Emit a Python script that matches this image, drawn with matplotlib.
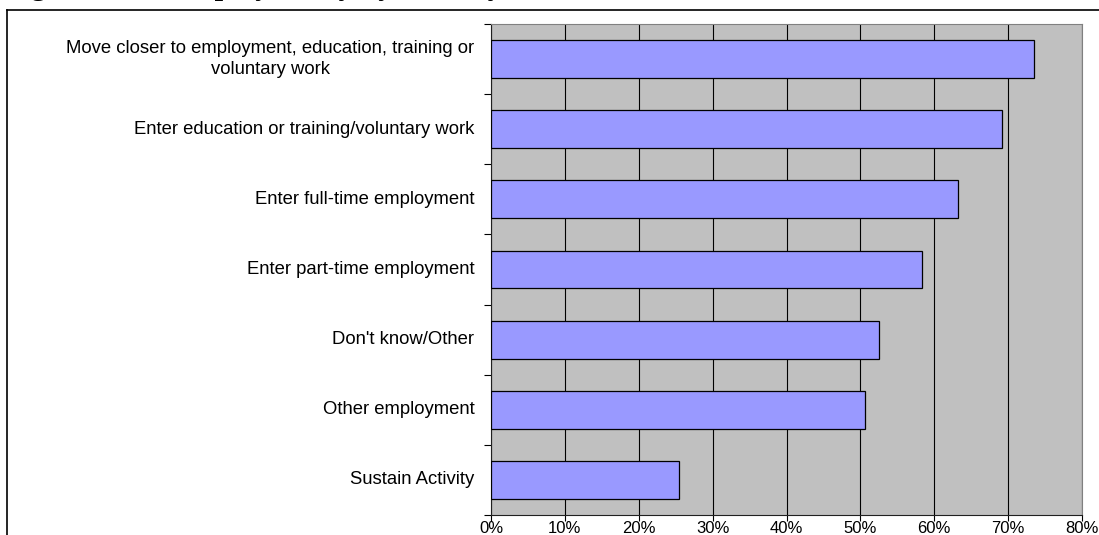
import matplotlib
matplotlib.use("Agg")
import matplotlib.pyplot as plt
from matplotlib.lines import Line2D
from matplotlib.ticker import FixedLocator, PercentFormatter
import numpy as np

# Data (top to bottom as drawn)
categories = [
    "Move closer to employment, education, training or\nvoluntary work",
    "Enter education or training/voluntary work",
    "Enter full-time employment",
    "Enter part-time employment",
    "Don't know/Other",
    "Other employment",
    "Sustain Activity",
]
values = [73.5, 69.2, 63.2, 58.4, 52.5, 50.6, 25.4]
x_ticks = [0, 10, 20, 30, 40, 50, 60, 70, 80]
title = "Figure 5.10: Employability by Activity"

W, H = 1099, 535
fig = plt.figure(figsize=(W / 100, H / 100), dpi=100)
fig.patch.set_facecolor("white")

# Plot area in pixel coordinates
left_px, right_px, top_px, bottom_px = 491, 1082, 24, 515
ax = fig.add_axes([left_px / W, 1 - bottom_px / H,
                   (right_px - left_px) / W, (bottom_px - top_px) / H])
ax.set_facecolor("#C0C0C0")

n = len(categories)
ypos = np.arange(n)
ax.barh(ypos, values, height=0.54, color="#9999FF", edgecolor="black",
        linewidth=0.9, zorder=3)

ax.set_xlim(0, 80)
ax.set_ylim(n - 0.5, -0.5)

# Vertical gridlines
ax.set_xticks(x_ticks)
ax.xaxis.set_major_formatter(PercentFormatter(decimals=0))
ax.grid(axis="x", color="black", linewidth=0.8, zorder=1)
ax.set_axisbelow(True)

# Category labels at bar centres, tick marks at band boundaries
ax.set_yticks(ypos)
ax.set_yticklabels(categories, ha="right", multialignment="center")
ax.yaxis.set_minor_locator(FixedLocator(np.arange(-0.5, n, 1.0)))
ax.tick_params(axis="y", which="major", length=0, pad=12)
ax.tick_params(axis="y", which="minor", length=5, width=0.8, color="black")
ax.tick_params(axis="x", which="major", length=4, width=0.8, color="black",
               pad=0)

for lbl in ax.get_yticklabels():
    lbl.set_fontfamily("Liberation Sans")
    lbl.set_fontsize(13.3)
    lbl.set_color("black")
    lbl.set_verticalalignment("center")
    lbl.set_linespacing(1.35)
for lbl in ax.get_xticklabels():
    lbl.set_fontfamily("Liberation Sans")
    lbl.set_fontsize(12)
    lbl.set_color("black")

for side in ("top", "right"):
    ax.spines[side].set_color("#808080")
    ax.spines[side].set_linewidth(0.8)
for side in ("left", "bottom"):
    ax.spines[side].set_color("#202020")
    ax.spines[side].set_linewidth(0.8)

# Outer chart frame (extends past right and bottom edges)
fx0, fy0 = 7 / W, 1 - 10 / H
fig.add_artist(Line2D([fx0, 1.01], [fy0, fy0], transform=fig.transFigure,
                      color="black", linewidth=1.2))
fig.add_artist(Line2D([fx0, fx0], [fy0, -0.01], transform=fig.transFigure,
                      color="black", linewidth=1.2))

# Heading above the chart, largely beyond the top edge
fig.text(4 / W, 1 + 6 / H, title, family="Liberation Serif",
         weight="bold", size=22, va="baseline", ha="left")

fig.savefig("out.png", dpi=100)
